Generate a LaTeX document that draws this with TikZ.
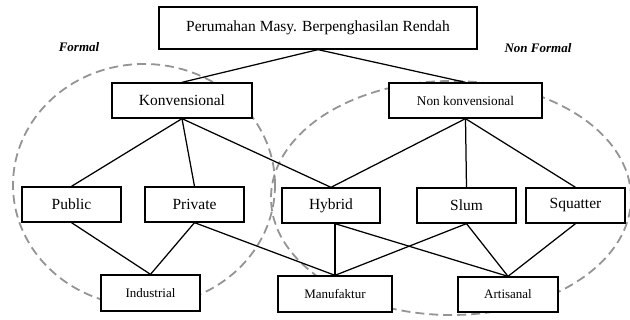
\documentclass[tikz,border=0pt]{standalone}
\usepackage{fontspec}
\setmainfont{Liberation Serif}
\begin{document}
\begin{tikzpicture}[x=1pt,y=1pt,
  box/.style={draw=black,line width=1.3pt,fill=white,minimum height=35pt,inner sep=0pt},
  bigtxt/.style={font=\fontsize{15.5}{18}\selectfont},
  smalltxt/.style={font=\fontsize{13}{16}\selectfont},
  edge/.style={line width=1.25pt,black},
  region/.style={draw=black!42,line width=1.8pt,dash pattern=on 9pt off 5pt},
  tag/.style={font=\fontsize{13}{16}\selectfont\bfseries\itshape}]
\useasboundingbox (0,0) rectangle (630,320);
% dashed regions
\draw[region] (144,135) ellipse [x radius=131, y radius=121];
\draw[region] (451,122) ellipse [x radius=180, y radius=117];
% nodes
\node[box,bigtxt,minimum width=318pt,minimum height=42pt] (top) at (318,292) {Perumahan Masy. Berpenghasilan Rendah};
\node[box,bigtxt,minimum width=140pt] (konv) at (182,219.5) {Konvensional};
\node[box,font=\fontsize{13.3}{16}\selectfont,minimum width=153pt] (nonk) at (465.5,219.5) {Non konvensional};
\node[box,bigtxt,minimum width=99pt] (pub) at (71.5,115.5) {Public};
\node[box,bigtxt,minimum width=99pt] (pri) at (194.5,115.5) {Private};
\node[box,bigtxt,minimum width=98pt] (hyb) at (331,114.5) {Hybrid};
\node[box,bigtxt,minimum width=99pt] (slum) at (466.5,114.5) {Slum};
\node[box,bigtxt,minimum width=99pt] (squ) at (575.5,114.5) {Squatter};
\node[box,smalltxt,minimum width=99pt,minimum height=36pt] (ind) at (150.5,27) {Industrial};
\node[box,smalltxt,minimum width=114pt,minimum height=36pt] (man) at (335,26) {Manufaktur};
\node[box,smalltxt,minimum width=100pt] (art) at (508,25.5) {Artisanal};
\node[tag] (tf) at (79,273) {Formal};
\node[tag] (tnf) at (538,272) {Non Formal};
% connectors
\coordinate (hb) at (man.north |- hyb.south);
\draw[edge] (top.south) -- (konv.north);
\draw[edge] (top.south) -- (nonk.north);
\draw[edge] (konv.south) -- (pub.north);
\draw[edge] (konv.south) -- (pri.north);
\draw[edge] (konv.south) -- (hyb.north);
\draw[edge] (nonk.south) -- (hyb.north);
\draw[edge] (nonk.south) -- (slum.north);
\draw[edge] (nonk.south) -- (squ.north);
\draw[edge] (pub.south) -- (ind.north);
\draw[edge] (pri.south) -- (ind.north);
\draw[edge] (pri.south) -- (man.north);
\draw[edge] (hb) -- (man.north);
\draw[edge] (hb) -- (art.north);
\draw[edge] (slum.south) -- (man.north);
\draw[edge] (slum.south) -- (art.north);
\draw[edge] (squ.south) -- (art.north);
\end{tikzpicture}
\end{document}
